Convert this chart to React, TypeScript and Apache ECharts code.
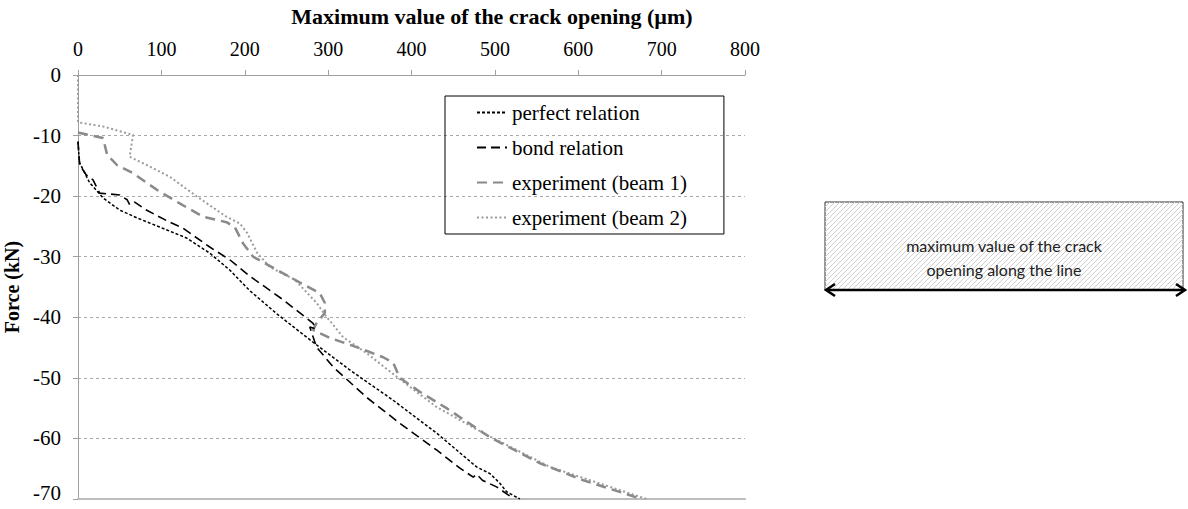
import React, { useEffect, useRef } from "react";
import * as echarts from "echarts";

const perfectRelation: [number, number][] = [
  [0, -11], [1, -13], [2, -14.5], [14, -17.8], [30, -20.3], [50, -22.3], [71, -23.6], [98, -25.1],
  [130, -26.9], [158, -29.4], [182, -32.2], [206, -35.6], [240, -39.6], [278, -43.7], [326, -48.7],
  [378, -53.7], [430, -59.1], [478, -64.7], [494, -65.8], [506, -67.4], [514, -68.8], [530, -70],
];
const bondRelation: [number, number][] = [
  [0, -11], [2, -14.9], [10, -16.5], [18, -17.3], [26, -19.5], [50, -19.8], [59, -20.6],
  [62, -21.4], [68, -21], [82, -22.3], [110, -24.3], [126, -25.3], [158, -28.4], [182, -30.5],
  [206, -33.2], [246, -37.1], [282, -41], [285, -41.9], [278, -41.6], [286, -44.9], [306, -48.2],
  [346, -53.2], [386, -57.5], [410, -59.9], [430, -61.9], [458, -64.9], [474, -66.4], [478, -65.9],
  [485, -66.9], [502, -68], [520, -69.7], [522, -70],
];
const beam1: [number, number][] = [
  [0, -9.5], [30, -10.4], [35, -13.2], [47, -14.9], [66, -16.2], [95, -19], [122, -21.2],
  [150, -23.4], [178, -24.3], [188, -25.1], [198, -27.8], [210, -30], [239, -32.2], [268, -34.4],
  [290, -36], [296, -37.6], [296, -39.3], [286, -41], [282, -42.1], [302, -43.4], [338, -45.1],
  [366, -46.6], [378, -47.5], [386, -50], [410, -52.3], [442, -55], [494, -59.8], [554, -64.1],
  [606, -66.9], [676, -70],
];
const beam2: [number, number][] = [
  [0, 0], [0, -7.8], [30, -8.5], [66, -9.9], [62, -13.5], [83, -14.9], [110, -16.8], [143, -20.1],
  [178, -23.4], [194, -24.5], [203, -26.1], [215, -29.4], [230, -31.7], [260, -33.8], [286, -37.6],
  [298, -39.9], [318, -43.3], [346, -45.9], [383, -49.9], [430, -54.8], [486, -59.1], [566, -64.7],
  [682, -70],
];
const seriesNames = ["perfect relation", "bond relation", "experiment (beam 1)", "experiment (beam 2)"];
const xTitle = "Maximum value of the crack opening (µm)";
const yTitle = "Force (kN)";
const boxText = "maximum value of the crack\nopening along the line";

const SERIF = "'Liberation Serif', 'Times New Roman', serif";

function hatchLines() {
  const x0 = 825, x1 = 1183, y0 = 202, y1 = 290;
  const h = y1 - y0;
  const out: any[] = [];
  for (let s = x0 - h; s < x1; s += 5) {
    let sx = s, sy = y1, ex = s + h, ey = y0;
    if (sx < x0) { const t = x0 - sx; sx = x0; sy = y1 - t; }
    if (ex > x1) { const t = ex - x1; ex = x1; ey = y0 + t; }
    out.push({
      type: "line",
      shape: { x1: sx, y1: sy, x2: ex, y2: ey },
      style: { stroke: "#cfcfcf", lineWidth: 1 },
      silent: true,
    });
  }
  return out;
}

export default function App() {
  const ref = useRef<HTMLDivElement>(null);
  useEffect(() => {
    if (!ref.current) return;
    const chart = echarts.init(ref.current, undefined, { renderer: "svg" });
    const lineStyles = [
      { color: "#000", width: 1.5, type: [3, 2] },
      { color: "#000", width: 1.6, type: [9, 5] },
      { color: "#8a8a8a", width: 2.5, type: [10, 6] },
      { color: "#9c9c9c", width: 2, type: [2, 2.5] },
    ];
    const datas = [perfectRelation, bondRelation, beam1, beam2];
    chart.setOption({
      animation: false,
      backgroundColor: "#fff",
      grid: { left: 78, right: 443, top: 75, bottom: 10, containLabel: false, outerBoundsMode: "none" },
      legend: {
        orient: "vertical",
        left: 445,
        top: 96,
        itemWidth: 30,
        itemHeight: 20,
        itemGap: 14,
        padding: [6, 37, 6, 31],
        borderColor: "#000",
        borderWidth: 1,
        data: seriesNames,
        itemStyle: { opacity: 0, borderWidth: 0 },
        textStyle: { fontFamily: SERIF, fontSize: 21, color: "#000", lineHeight: 20 },
      },
      xAxis: [
        {
          type: "value",
          position: "top",
          min: 0,
          max: 800,
          interval: 100,
          axisLine: { show: true, lineStyle: { color: "#a0a0a0", width: 1 } },
          axisTick: { show: true, length: 5, lineStyle: { color: "#a0a0a0" } },
          axisLabel: { fontFamily: SERIF, fontSize: 20, color: "#000", margin: 16 },
          splitLine: { show: false },
        },
        {
          type: "value",
          position: "bottom",
          min: 0,
          max: 800,
          interval: 100,
          axisLine: { show: true, lineStyle: { color: "#bdbdbd", width: 2 } },
          axisTick: { show: false },
          axisLabel: { show: false },
          splitLine: { show: false },
        },
      ],
      yAxis: {
        type: "value",
        min: -70,
        max: 0,
        interval: 10,
        name: yTitle,
        nameLocation: "middle",
        nameRotate: 90,
        nameGap: 56,
        nameTextStyle: { fontFamily: SERIF, fontSize: 20, fontWeight: "bold", color: "#000" },
        axisLine: { show: true, lineStyle: { color: "#a0a0a0", width: 1 } },
        axisTick: { show: true, length: 5, lineStyle: { color: "#a0a0a0" } },
        axisLabel: {
          fontFamily: SERIF,
          fontSize: 21,
          color: "#000",
          margin: 17,
          formatter: (v: number) => (v === -70 ? "{low|" + v + "}" : String(v)),
          rich: {
            low: { fontFamily: SERIF, fontSize: 21, color: "#000", padding: [0, 0, 12, 0] },
          },
        },
        splitLine: { show: true, lineStyle: { color: "#a8a8a8", width: 1, type: [3, 3] } },
      },
      series: seriesNames.map((n, i) => ({
        name: n,
        type: "line",
        xAxisIndex: 0,
        data: datas[i],
        showSymbol: false,
        symbol: "none",
        lineStyle: lineStyles[i],
        itemStyle: { color: lineStyles[i].color },
        z: 10 - i,
      })),
      graphic: [
        {
          type: "text",
          x: 492,
          y: 16,
          style: {
            text: xTitle,
            fontFamily: SERIF,
            fontSize: 22,
            fontWeight: "bold",
            fill: "#000",
            align: "center",
            verticalAlign: "middle",
          },
        },
        {
          type: "group",
          children: [
            {
              type: "rect",
              shape: { x: 825, y: 202, width: 358, height: 88 },
              style: { fill: "#fff", stroke: "#333", lineWidth: 1 },
              silent: true,
            },
            ...hatchLines(),
            {
              type: "text",
              x: 1004,
              y: 257,
              style: {
                text: boxText,
                fontFamily: "Lato, 'Open Sans', sans-serif",
                fontSize: 16,
                lineHeight: 24,
                fill: "#222",
                align: "center",
                verticalAlign: "middle",
              },
            },
            {
              type: "line",
              shape: { x1: 827, y1: 290, x2: 1183, y2: 290 },
              style: { stroke: "#000", lineWidth: 2.5 },
            },
            {
              type: "polyline",
              shape: { points: [[835, 284], [826, 290], [835, 296]] },
              style: { stroke: "#000", lineWidth: 2.5, fill: "none" },
            },
            {
              type: "polyline",
              shape: { points: [[1176, 284], [1185, 290], [1176, 296]] },
              style: { stroke: "#000", lineWidth: 2.5, fill: "none" },
            },
          ],
        },
      ],
    });
    return () => chart.dispose();
  }, []);
  return (
    <div
      ref={ref}
      style={{ position: "fixed", left: 0, top: 0, width: 1188, height: 509, background: "#fff" }}
    />
  );
}
